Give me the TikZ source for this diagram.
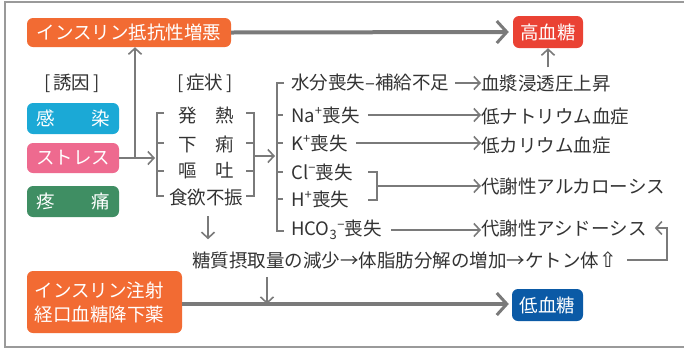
\documentclass[tikz,border=0pt]{standalone}
\usepackage{fontspec}
\setmainfont{Noto Sans CJK JP}
\newfontfamily\djv{DejaVu Sans}
\usetikzlibrary{arrows.meta,calc}
\definecolor{txt}{HTML}{333333}
\definecolor{ln}{HTML}{7A7A7A}
\definecolor{frm}{HTML}{9A9A9A}
\definecolor{cOr}{HTML}{F26B33}
\definecolor{cRed}{HTML}{EA4234}
\definecolor{cCy}{HTML}{1BA9D6}
\definecolor{cPk}{HTML}{EE6A8F}
\definecolor{cGr}{HTML}{3F8E63}
\definecolor{cBl}{HTML}{0B5AA6}
\tikzset{
  box/.style={rounded corners=6pt, text=white, inner sep=0pt},
  lbl/.style={text=txt, inner sep=0pt},
  thinline/.style={draw=ln, line width=1.6pt},
  arr/.style={thinline, -{Straight Barb[length=6pt,width=13pt,line width=1.6pt]}},
  bigarr/.style={draw=ln, line width=4pt, -{Straight Barb[length=10pt,width=22pt,line width=3pt]}},
}
\begin{document}
\begin{tikzpicture}[x=1pt,y=-1pt,font=\fontsize{18.5}{24}\selectfont]
\useasboundingbox (0,0) rectangle (684,349);
\draw[frm, line width=1.3pt] (690,2) -- (5,2) -- (5,347) -- (690,347);

% colored boxes
\node[box, fill=cOr, minimum width=204pt, minimum height=29pt] (ins) at (129,32.5) {インスリン抵抗性増悪};
\node[box, fill=cRed, minimum width=70pt, minimum height=32pt] (high) at (548,32) {高血糖};
\node[box, fill=cCy, minimum width=92pt, minimum height=31pt] (kan) at (73,118.5) {感　　染};
\node[box, fill=cPk, minimum width=92pt, minimum height=30pt] (str) at (73,158) {ストレス};
\node[box, fill=cGr, minimum width=92pt, minimum height=31pt] (tou2) at (73,201.5) {疼　　痛};
\node[box, fill=cOr, minimum width=155pt, minimum height=62pt, align=left, text width=140pt] (ins2) at (104.5,302) {インスリン注射\\経口血糖降下薬};
\node[box, fill=cBl, minimum width=71pt, minimum height=32pt] (low) at (547.5,305) {低血糖};

% headings
\node[lbl] (yuin) at (72,83) {[\,誘因\,]};
\node[lbl] (shou) at (205,83) {[\,症状\,]};

% symptoms
\node[lbl] (hatsu) at (206,116) {発　熱};
\node[lbl] (geri) at (206,144) {下　痢};
\node[lbl] (oto) at (206,171) {嘔　吐};
\node[lbl] (shoku) at (206,197.5) {食欲不振};

% loss column
\node[lbl, anchor=west] (wat) at (291,83) {水分喪失–補給不足};
\node[lbl, anchor=west] (na) at (291,115) {Na\textsuperscript{+}喪失};
\node[lbl, anchor=west] (k) at (291,143) {K\textsuperscript{+}喪失};
\node[lbl, anchor=west] (cl) at (291,172) {Cl\textsuperscript{−}喪失};
\node[lbl, anchor=west] (h) at (291,199) {H\textsuperscript{+}喪失};
\node[lbl, anchor=west] (hco) at (291,230) {HCO\textsubscript{3}\textsuperscript{−}喪失};

% results column
\node[lbl, anchor=west] (osm) at (481,83) {血漿浸透圧上昇};
\node[lbl, anchor=west] (hna) at (481,116) {低ナトリウム血症};
\node[lbl, anchor=west] (hk) at (481,145) {低カリウム血症};
\node[lbl, anchor=west] (alk) at (481,186) {代謝性アルカローシス};
\node[lbl, anchor=west] (aci) at (481,228) {代謝性アシドーシス};

% bottom text
\node[lbl, anchor=west] (keto) at (192,260) {糖質摂取量の減少→体脂肪分解の増加→ケトン体{\djv\fontsize{21}{24}\selectfont ⇧}};

% coordinates
\coordinate (j1) at (135,158);
\coordinate (sL) at (155,158);
\coordinate (sR) at (254,156);
\coordinate (mB) at (275,156);
\coordinate (clb) at (377,186);
\coordinate (kc1) at (667,260);
\coordinate (kc2) at (667,228);
\coordinate (dj) at (267,304);

% thick arrows
\draw[bigarr] (ins.east) -- ([xshift=-4pt]high.west);
\draw[bigarr] (ins2.east |- dj) -- ([xshift=-3pt]low.west |- dj);

% left side arrows
\draw[arr] (str.east) -- (sL);
\draw[arr] (j1) -- (j1 |- ins.south);

% symptom brackets
\draw[thinline] (164,113) -- (157,113) -- (157,196) -- (164,196);
\draw[thinline] (157,143) -- (164,143) (157,171) -- (164,171);
\draw[thinline] (246,113) -- (254,113) -- (254,196) -- (246,196);
\draw[thinline] (254,143) -- (246,143) (254,171) -- (246,171);
\draw[arr] (sR) -- (mB);

% main bracket
\draw[thinline] (284,83) -- (277,83) -- (277,231) -- (284,231);
\foreach \yy in {115,143,172,199} \draw[thinline] (277,\yy) -- (283,\yy);

% Cl/H bracket
\draw[thinline] (368,172) -- (377,172) -- (377,200) -- (368,200);

% row arrows
\draw[arr] ([xshift=6pt]wat.east) -- (osm.west |- wat.east);
\draw[arr] ([xshift=8pt]na.east) -- (hna.west |- na.east);
\draw[arr] ([xshift=8pt]k.east) -- (hk.west |- k.east);
\draw[arr] (clb) -- (alk.west |- clb);
\draw[arr] ([xshift=9pt]hco.east) -- (aci.west |- hco.east);

% up to high
\draw[arr] ([yshift=7pt]osm.north -| high.south) -- (high.south);

% down arrows
\draw[arr] ([xshift=2pt,yshift=-10pt]shoku.south) -- ([xshift=2pt,yshift=-33pt]shoku.south);
\draw[arr] ([yshift=-8pt]keto.south -| dj) -- (dj);

% ketone loop
\draw[arr] ([xshift=10pt]keto.east) -- (kc1) -- (kc2) -- ([xshift=8pt]aci.east |- kc2);
\end{tikzpicture}
\end{document}
